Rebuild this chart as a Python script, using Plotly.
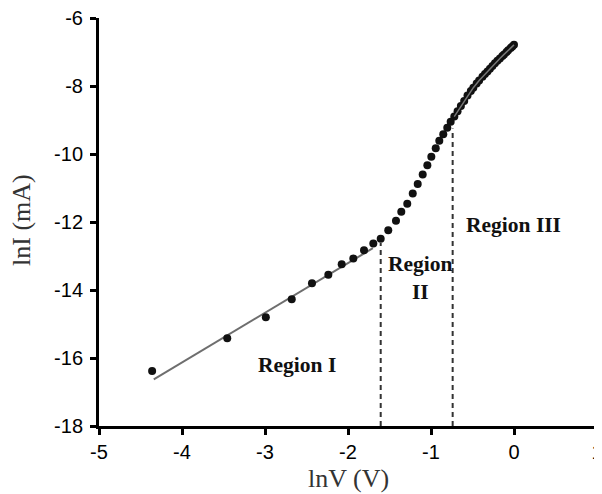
import plotly.graph_objects as go

# Measured data points (lnV, lnI)
ln_v = [-4.36, -3.455, -2.99, -2.678, -2.434, -2.237, -2.076, -1.936, -1.807, -1.695,
        -1.606, -1.515, -1.422, -1.358, -1.286, -1.220, -1.160, -1.100, -1.044, -0.996,
        -0.943, -0.900, -0.852, -0.804, -0.763, -0.719,
        -0.68, -0.64, -0.60, -0.56, -0.52, -0.49, -0.45, -0.42, -0.38, -0.35, -0.32,
        -0.29, -0.26, -0.23, -0.20, -0.17, -0.14, -0.12, -0.09, -0.07, -0.04, -0.02, 0.0]
ln_i = [-16.38, -15.42, -14.80, -14.27, -13.80, -13.55, -13.24, -13.07, -12.83, -12.63,
        -12.49, -12.24, -11.96, -11.70, -11.46, -11.16, -10.88, -10.60, -10.33, -10.08,
        -9.83, -9.61, -9.42, -9.23, -9.05, -8.90,
        -8.74, -8.59, -8.44, -8.28, -8.15, -8.05, -7.93, -7.84, -7.73, -7.65, -7.57,
        -7.49, -7.41, -7.33, -7.26, -7.19, -7.12, -7.07, -7.00, -6.95, -6.88, -6.84, -6.79]

# Fit line in region I
fit1_x = [-4.34, -1.70]
fit1_y = [-16.63, -12.77]

# Fit curve in region III
fit3_x = [-0.72, -0.64, -0.56, -0.49, -0.42, -0.35, -0.29, -0.23, -0.17, -0.12, -0.07, -0.02, 0.0]
fit3_y = [-8.90, -8.59, -8.28, -8.05, -7.84, -7.65, -7.49, -7.33, -7.19, -7.07, -6.95, -6.84, -6.79]

# Region boundaries (x position, top y)
bound_x = [-1.606, -0.739]
bound_top = [-12.62, -9.25]

x_ticks = [-5, -4, -3, -2, -1, 0, 1]
y_ticks = [-6, -8, -10, -12, -14, -16, -18]

fig = go.Figure()

fig.add_trace(go.Scatter(x=fit1_x, y=fit1_y, mode="lines",
                         line=dict(color="#6e6e6e", width=2), showlegend=False))

for bx, bt in zip(bound_x, bound_top):
    fig.add_trace(go.Scatter(x=[bx, bx], y=[-18, bt], mode="lines",
                             line=dict(color="#333333", width=2, dash="5px,4px"),
                             showlegend=False))

fig.add_trace(go.Scatter(x=ln_v, y=ln_i, mode="markers",
                         marker=dict(color="#111111", size=8), showlegend=False))

fig.add_trace(go.Scatter(x=fit3_x, y=fit3_y, mode="lines",
                         line=dict(color="#777777", width=1.5), showlegend=False))

label_font = dict(family="Liberation Serif, Times New Roman, serif", size=21.5, color="#111111")
fig.add_annotation(x=-2.61, y=-16.2, text="<b>Region I</b>", showarrow=False, font=label_font)
fig.add_annotation(x=-1.13, y=-13.65, text="<b>Region<br>II</b>", showarrow=False,
                   font=label_font, align="center")
fig.add_annotation(x=-0.01, y=-12.09, text="<b>Region III</b>", showarrow=False, font=label_font)

title_font = dict(family="Liberation Serif, Times New Roman, serif", size=26, color="#333333")
fig.add_annotation(xref="paper", yref="paper", x=0.5, y=-0.1275, text="lnV (V)",
                   showarrow=False, font=title_font, xanchor="center", yanchor="middle")
fig.add_annotation(xref="paper", yref="paper", x=-0.1546, y=0.505, text="lnI (mA)",
                   showarrow=False, font=title_font, textangle=-90,
                   xanchor="center", yanchor="middle")

axis_common = dict(showline=True, linecolor="black", linewidth=3, ticks="outside",
                   ticklen=6, tickwidth=3, tickcolor="black", showgrid=False, zeroline=False,
                   tickfont=dict(family="Liberation Sans, Arial, sans-serif", size=20, color="black"),
                   mirror=False, automargin=False, ticklabeloverflow="allow")

fig.update_xaxes(range=[-5, 1], tickvals=x_ticks, ticktext=[str(v) for v in x_ticks],
                 **axis_common)
fig.update_yaxes(range=[-18, -6], tickvals=y_ticks, ticktext=[str(v) for v in y_ticks],
                 ticklabelstandoff=3, **axis_common)

# page body has an ~8px margin; compensate so the plot lands where the reference's does
fig.update_layout(width=594, height=486, margin=dict(l=91, r=5, t=10, b=68),
                  plot_bgcolor="white", paper_bgcolor="white")

fig.write_html("out.html")
